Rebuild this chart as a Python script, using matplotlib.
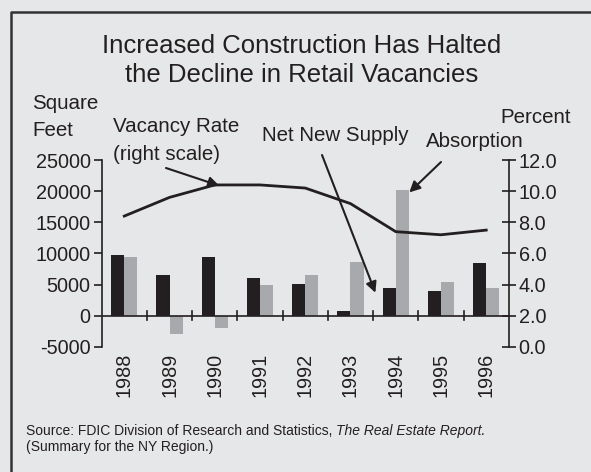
import numpy as np
import matplotlib
matplotlib.use("Agg")
import matplotlib.pyplot as plt
from matplotlib.lines import Line2D

plt.rcParams["font.family"] = ["Liberation Sans", "DejaVu Sans"]

# Dữ liệu
years = ["1988", "1989", "1990", "1991", "1992", "1993", "1994", "1995", "1996"]
net_new_supply = [9700, 6600, 9400, 6100, 5100, 800, 4500, 4000, 8400]
absorption = [9500, -2900, -2000, 5000, 6600, 8700, 20200, 5500, 4500]
vacancy_rate = [8.4, 9.6, 10.4, 10.4, 10.2, 9.2, 7.4, 7.2, 7.5]

left_ticks = [-5000, 0, 5000, 10000, 15000, 20000, 25000]
right_ticks = [0.0, 2.0, 4.0, 6.0, 8.0, 10.0, 12.0]

bg = "#e6e7e8"
dark = "#231f20"
grey = "#a7a9ac"

W, H = 591.0, 472.0
fig = plt.figure(figsize=(5.91, 4.72), dpi=100, facecolor=bg)
ax = fig.add_axes([0.172, 0.265, 0.689, 0.396])
ax.set_facecolor(bg)


def px(xp, yp):
    # đổi tọa độ pixel (gốc trên-trái) sang figure fraction
    return xp / W, 1 - yp / H


def label(xp, yp, s, size=14.8, **kw):
    fx, fy = px(xp, yp)
    return fig.text(fx, fy, s, ha=kw.pop("ha", "left"), va="baseline",
                    fontsize=size, color=dark, **kw)


x = np.arange(len(years))
w = 0.29
ax.bar(x - w / 2, net_new_supply, width=w, color=dark, zorder=2)
ax.bar(x + w / 2, absorption, width=w, color=grey, zorder=2)

ax.set_xlim(-0.5, len(years) - 0.5)
ax.set_ylim(-5000, 25000)
ax.set_yticks(left_ticks)
ax.set_yticklabels([str(t) for t in left_ticks], fontsize=14.3, color=dark)
ax.tick_params(axis="y", direction="out", length=6, width=1.2, color=dark, pad=2)

for s in ["top", "right", "bottom"]:
    ax.spines[s].set_visible(False)
ax.spines["left"].set_color(dark)
ax.spines["left"].set_linewidth(1.2)

# trục x nằm ở mức 0
ax.axhline(0, color=dark, lw=1.2, zorder=3)
for b in np.arange(0.5, len(years) - 1, 1.0):
    ax.plot([b, b], [-700, 700], color=dark, lw=1.2, zorder=3)
ax.set_xticks([])
for i, yr in enumerate(years):
    ax.text(i, -5900, yr, rotation=90, ha="center", va="top", fontsize=14.3, color=dark)

# trục phải
ax2 = ax.twinx()
ax2.set_ylim(0, 12)
ax2.set_yticks(right_ticks)
ax2.set_yticklabels(["%.1f" % t for t in right_ticks], fontsize=14.3, color=dark)
ax2.tick_params(axis="y", direction="inout", length=10, width=1.2, color=dark, pad=2)
for s in ["top", "left", "bottom"]:
    ax2.spines[s].set_visible(False)
ax2.spines["right"].set_color(dark)
ax2.spines["right"].set_linewidth(1.2)
ax2.plot(x, vacancy_rate, color=dark, lw=2, zorder=4)

# tiêu đề
label(302, 53, "Increased Construction Has Halted", size=18.5, ha="center")
label(302, 82, "the Decline in Retail Vacancies", size=18.5, ha="center")

# nhãn trục và chú thích
label(32, 109, "Square")
label(32, 136, "Feet")
label(500, 123, "Percent")
label(113, 132, "Vacancy Rate")
label(113, 160, "(right scale)")
label(262, 141, "Net New Supply")
label(426, 147, "Absorption")

arrow = dict(arrowstyle="-|>", color=dark, lw=1.5, mutation_scale=16, shrinkA=0, shrinkB=0)
ax2.annotate("", xy=(2.1, 10.35), xycoords="data",
             xytext=px(166, 168), textcoords="figure fraction", arrowprops=arrow)
ax.annotate("", xy=(5.55, 3700), xycoords="data",
            xytext=px(322, 155), textcoords="figure fraction", arrowprops=arrow)
ax.annotate("", xy=(6.3, 19800), xycoords="data",
            xytext=px(441, 162), textcoords="figure fraction", arrowprops=arrow)

# nguồn
fig.canvas.draw()
r = fig.canvas.get_renderer()
t1 = label(26, 435, "Source: FDIC Division of Research and Statistics, ", size=10)
bb = t1.get_window_extent(renderer=r)
label(bb.x1, 435, "The Real Estate Report.", size=10, style="italic")
label(26, 451, "(Summary for the NY Region.)", size=10)

# khung viền trên và trái
fig.add_artist(Line2D([11 / W, 11 / W, 1.0], [0.0, 1 - 12 / H, 1 - 12 / H],
                      transform=fig.transFigure, color="#333333", lw=1.8))

plt.savefig("out.png", dpi=100, facecolor=bg)
plt.close()
